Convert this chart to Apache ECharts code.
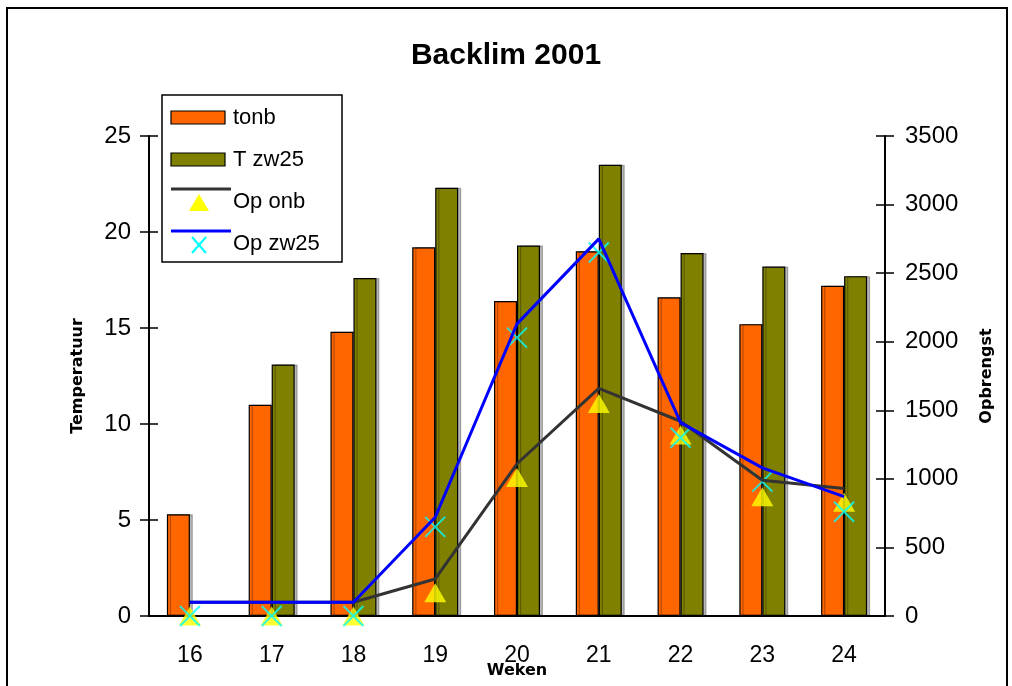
<!DOCTYPE html>
<html>
<head>
<meta charset="utf-8">
<title>Backlim 2001</title>
<script src="https://cdn.jsdelivr.net/npm/echarts@6/dist/echarts.min.js"></script>
<style>
html, body { margin: 0; padding: 0; background: #fff; }
#chart { width: 1012px; height: 686px; }
</style>
</head>
<body>
<div id="chart"></div>
<script>
// weeks on the x axis
var weeks = ["16", "17", "18", "19", "20", "21", "22", "23", "24"];

// temperature bars (left axis)
var tonb = [5.3, 11.0, 14.8, 19.2, 16.4, 19.0, 16.6, 15.2, 17.2];
var tZw25 = [null, 13.1, 17.6, 22.3, 19.3, 23.5, 18.9, 18.2, 17.7];

// yield (right axis): lines and their markers
var opOnbLine = [100, 100, 100, 270, 1110, 1660, 1420, 990, 930];
var opOnbPts = [0, 0, 0, 170, 1010, 1550, 1320, 870, 830];
var opZw25Line = [100, 100, 100, 720, 2130, 2750, 1410, 1080, 870];
var opZw25Pts = [0, 0, 0, 650, 2030, 2650, 1300, 980, 760];

var FONT = "Liberation Sans, Arial, sans-serif";
var BOLD = "DejaVu Sans, Arial, sans-serif";
var CROSS = "path://M0 0L20 20M20 0L0 20";

var chart = echarts.init(document.getElementById("chart"));

function tickAxis(pos, max, step, inside) {
    return {
        type: "value",
        position: pos,
        min: 0,
        max: max,
        interval: step,
        splitLine: { show: false },
        axisLine: { show: !inside, lineStyle: { color: "#000", width: 2 } },
        axisTick: { show: true, inside: inside, length: 9, lineStyle: { color: "#000", width: 1.5 } },
        axisLabel: {
            show: !inside, color: "#000", fontSize: 24, fontFamily: FONT, margin: 18,
            formatter: function (v) { return String(v); }
        }
    };
}

var yLeft = tickAxis("left", 25, 5, false);
yLeft.name = "Temperatuur";
yLeft.nameLocation = "middle";
yLeft.nameRotate = 90;
yLeft.nameGap = 63;
yLeft.nameTextStyle = { color: "#000", fontSize: 16, fontWeight: "bold", fontFamily: BOLD };

var yRight = tickAxis("right", 3500, 500, false);
yRight.axisLabel.margin = 20;
yRight.name = "Opbrengst";
yRight.nameLocation = "middle";
yRight.nameRotate = 90;
yRight.nameGap = 94;
yRight.nameTextStyle = { color: "#000", fontSize: 16, fontWeight: "bold", fontFamily: BOLD };

var barStyle = function (c) {
    return {
        color: c,
        borderColor: "#000",
        borderWidth: 1.2,
        shadowColor: "rgba(0,0,0,0.28)",
        shadowOffsetX: 3,
        shadowOffsetY: 0,
        shadowBlur: 0
    };
};

var legendX = 171;
var legendText = { fill: "#000", fontSize: 22, fontFamily: FONT, verticalAlign: "middle" };

chart.setOption({
    backgroundColor: "#fff",
    animation: false,
    title: {
        text: "Backlim 2001",
        left: "center",
        top: 36,
        textStyle: { color: "#000", fontSize: 30, fontWeight: "bold", fontFamily: FONT }
    },
    grid: { left: 149, right: 127, top: 136, bottom: 70, outerBoundsMode: "none", containLabel: false },
    xAxis: [{
        type: "category",
        data: weeks,
        position: "bottom",
        name: "Weken",
        nameLocation: "middle",
        nameGap: 47,
        nameMoveOverlap: false,
        nameTextStyle: { color: "#000", fontSize: 16, fontWeight: "bold", fontFamily: BOLD },
        axisLine: { lineStyle: { color: "#000", width: 2 } },
        axisTick: { length: 9, lineStyle: { color: "#000", width: 1.5 } },
        axisLabel: { color: "#000", fontSize: 23, fontFamily: FONT, margin: 28 }
    }, {
        type: "category",
        data: weeks,
        position: "bottom",
        axisLine: { show: false },
        axisTick: { inside: true, length: 9, lineStyle: { color: "#000", width: 1.5 } },
        axisLabel: { show: false }
    }],
    yAxis: [yLeft, yRight, tickAxis("left", 25, 5, true), tickAxis("right", 3500, 500, true)],
    series: [{
        name: "tonb",
        type: "bar",
        yAxisIndex: 0,
        barWidth: 23,
        barGap: "0%",
        data: tonb,
        itemStyle: barStyle("#FF6600")
    }, {
        name: "T zw25",
        type: "bar",
        yAxisIndex: 0,
        barWidth: 23,
        barGap: "0%",
        data: tZw25,
        itemStyle: barStyle("#808000")
    }, {
        name: "Op onb lijn",
        type: "line",
        yAxisIndex: 1,
        symbol: "none",
        data: opOnbLine,
        lineStyle: { color: "#333333", width: 3 }
    }, {
        name: "Op zw25 lijn",
        type: "line",
        yAxisIndex: 1,
        symbol: "none",
        data: opZw25Line,
        lineStyle: { color: "#0000FF", width: 3 }
    }, {
        name: "Op onb",
        type: "scatter",
        yAxisIndex: 1,
        clip: false,
        symbol: "triangle",
        symbolSize: [22, 19],
        data: opOnbPts,
        itemStyle: { color: "#FFFF00" }
    }, {
        name: "Op zw25",
        type: "scatter",
        yAxisIndex: 1,
        clip: false,
        symbol: CROSS,
        symbolSize: 20,
        data: opZw25Pts,
        itemStyle: { color: "rgba(0,0,0,0)", borderColor: "#00FFFF", borderWidth: 2 }
    }],
    graphic: [{
        type: "rect",
        shape: { x: 7, y: 8, width: 1000, height: 700 },
        style: { fill: "none", stroke: "#000", lineWidth: 2 },
        silent: true
    }, {
        // legend box
        type: "group",
        children: [
            { type: "rect", shape: { x: 162, y: 95, width: 180, height: 167 }, style: { fill: "#fff", stroke: "#000", lineWidth: 1.5 } },
            { type: "rect", shape: { x: legendX, y: 111, width: 54, height: 13 }, style: { fill: "#FF6600", stroke: "#000", lineWidth: 1.2 } },
            { type: "text", x: 233, y: 118, style: Object.assign({ text: "tonb" }, legendText) },
            { type: "rect", shape: { x: legendX, y: 153, width: 54, height: 13 }, style: { fill: "#808000", stroke: "#000", lineWidth: 1.2 } },
            { type: "text", x: 233, y: 160, style: Object.assign({ text: "T zw25" }, legendText) },
            { type: "line", shape: { x1: legendX, y1: 189, x2: 231, y2: 189 }, style: { stroke: "#333333", lineWidth: 3 } },
            { type: "polygon", shape: { points: [[199, 194], [209, 211], [189, 211]] }, style: { fill: "#FFFF00" } },
            { type: "text", x: 233, y: 202, style: Object.assign({ text: "Op onb" }, legendText) },
            { type: "line", shape: { x1: legendX, y1: 231, x2: 231, y2: 231 }, style: { stroke: "#0000FF", lineWidth: 3 } },
            { type: "polyline", shape: { points: [[192, 237], [206, 253]] }, style: { stroke: "#00FFFF", lineWidth: 2 } },
            { type: "polyline", shape: { points: [[206, 237], [192, 253]] }, style: { stroke: "#00FFFF", lineWidth: 2 } },
            { type: "text", x: 233, y: 244, style: Object.assign({ text: "Op zw25" }, legendText) }
        ]
    }]
});
</script>
</body>
</html>
